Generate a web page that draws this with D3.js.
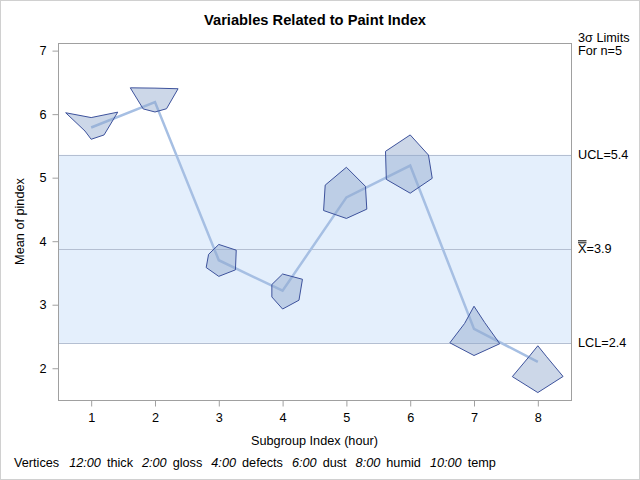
<!DOCTYPE html>
<html>
<head>
<meta charset="utf-8">
<script src="https://cdn.jsdelivr.net/npm/d3@7"></script>
<style>
  body { margin: 0; background: #fff; }
  text { font-family: "Liberation Sans", Arial, sans-serif; }
</style>
</head>
<body>
<div id="chart"></div>
<script>
(function () {

  // subgroup index and subgroup means of pindex
  const hours = [1, 2, 3, 4, 5, 6, 7, 8]
  const means = [5.79, 6.19, 3.70, 3.22, 4.69, 5.19, 2.62, 2.10]

  // standardized star vertex lengths (0..1), one array per variable
  const thick   = [0.32, 0.45, 0.51, 0.54, 0.97, 0.99, 0.73, 0.52]
  const gloss   = [0.99, 0.86, 0.65, 0.74, 0.71, 0.68, 0.40, 0.33]
  const defects = [0.48, 0.43, 0.62, 0.61, 0.76, 0.82, 0.96, 0.94]
  const dust    = [0.38, 0.32, 0.52, 0.59, 0.68, 0.89, 0.86, 0.99]
  const humid   = [0.23, 0.44, 0.47, 0.40, 0.85, 0.89, 0.90, 0.95]
  const temp    = [0.95, 0.92, 0.38, 0.40, 0.79, 0.92, 0.35, 0.33]

  const vertexNames = ['thick', 'gloss', 'defects', 'dust', 'humid', 'temp']
  const vertexClock = ['12:00', '2:00', '4:00', '6:00', '8:00', '10:00']

  // control limits
  const ucl = 5.36
  const center = 3.88
  const lcl = 2.40
  const yTicks = [2, 3, 4, 5, 6, 7]

  const margin = { top: 43, right: 69, bottom: 80, left: 58 }
  const width = 640 - margin.left - margin.right
  const height = 480 - margin.top - margin.bottom
  const fs = "12.7px"

  const root = d3.select("#chart").append("svg")
      .attr("width", 640)
      .attr("height", 480)

  root.append("rect")
    .attr("x", 0.5).attr("y", 0.5)
    .attr("width", 639).attr("height", 479)
    .attr("fill", "#fff")
    .attr("stroke", "#d0d0d0")

  const svg = root.append("g")
      .attr("transform", "translate(" + margin.left + "," + margin.top + ")")

  const xPositionScale = d3.scaleLinear()
    .domain([0.48, 8.52])
    .range([0, width])

  const yPositionScale = d3.scaleLinear()
    .domain([1.5, 7.12])
    .range([height, 0])

  const rScale = d3.scaleLinear()
    .domain([0, 1])
    .range([0, 31])

  // limits band
  svg.append("rect")
    .attr("x", 0)
    .attr("y", yPositionScale(ucl))
    .attr("width", width)
    .attr("height", yPositionScale(lcl) - yPositionScale(ucl))
    .attr("fill", "#e4effc")

  svg.selectAll(".limit")
    .data([ucl, center, lcl])
    .join("line")
    .attr("class", "limit")
    .attr("x1", 0)
    .attr("x2", width)
    .attr("y1", d => Math.round(yPositionScale(d)) + 0.5)
    .attr("y2", d => Math.round(yPositionScale(d)) + 0.5)
    .attr("stroke", "#b4bfd2")
    .attr("stroke-width", 1)

  // mean line
  const line = d3.line()
    .x((d, i) => xPositionScale(hours[i]))
    .y(d => yPositionScale(d))

  svg.append("path")
    .datum(means)
    .attr("d", line)
    .attr("fill", "none")
    .attr("stroke", "#a6bfe3")
    .attr("stroke-width", 2.5)

  // stars
  const vars = [thick, gloss, defects, dust, humid, temp]
  const stars = hours.map((h, i) => {
    const cx = xPositionScale(h)
    const cy = yPositionScale(means[i])
    return vars.map((v, k) => {
      const a = k * Math.PI / 3
      const r = rScale(v[i])
      return [cx + r * Math.sin(a), cy - r * Math.cos(a)]
    })
  })

  svg.selectAll(".star")
    .data(stars)
    .join("polygon")
    .attr("class", "star")
    .attr("points", d => d.map(p => p.join(",")).join(" "))
    .attr("fill", "#8fa6cc")
    .attr("fill-opacity", 0.45)
    .attr("stroke", "#3d529c")
    .attr("stroke-width", 1)

  // frame
  svg.append("rect")
    .attr("x", 0.5).attr("y", 0.5)
    .attr("width", width).attr("height", height)
    .attr("fill", "none")
    .attr("stroke", "#a0a0a0")

  const yAxis = d3.axisLeft(yPositionScale)
    .tickValues(yTicks).tickFormat(d3.format("d"))
    .tickSize(6).tickPadding(6)
  svg.append("g")
    .attr("class", "axis y-axis")
    .attr("transform", "translate(0.5,0)")
    .call(yAxis)

  const xAxis = d3.axisBottom(xPositionScale)
    .tickValues(hours).tickFormat(d3.format("d"))
    .tickSize(6).tickPadding(6)
  svg.append("g")
    .attr("class", "axis x-axis")
    .attr("transform", "translate(0," + (height + 0.5) + ")")
    .call(xAxis)

  root.selectAll(".axis .domain").remove()
  root.selectAll(".axis line").attr("stroke", "#a0a0a0")
  root.selectAll(".axis text")
    .attr("fill", "#000")
    .style("font-size", fs)
    .style("font-family", "'Liberation Sans', Arial, sans-serif")

  // titles
  root.append("text")
    .attr("x", 315).attr("y", 25)
    .attr("text-anchor", "middle")
    .style("font-size", "14.7px")
    .style("font-weight", "bold")
    .text("Variables Related to Paint Index")

  root.append("text")
    .attr("transform", "translate(24," + (margin.top + height / 2) + ") rotate(-90)")
    .attr("text-anchor", "middle")
    .style("font-size", fs)
    .text("Mean of pindex")

  root.append("text")
    .attr("x", margin.left + width / 2).attr("y", 445)
    .attr("text-anchor", "middle")
    .style("font-size", fs)
    .text("Subgroup Index (hour)")

  // right-side labels
  const rx = margin.left + width + 7
  const rlab = root.append("g").style("font-size", fs)
  rlab.append("text").attr("x", rx).attr("y", 42).text("3\u03c3 Limits")
  rlab.append("text").attr("x", rx).attr("y", 55).text("For n=5")
  rlab.append("text").attr("x", rx)
    .attr("y", margin.top + yPositionScale(ucl) + 4)
    .text("UCL=" + ucl.toFixed(1))
  rlab.append("text").attr("x", rx)
    .attr("y", margin.top + yPositionScale(lcl) + 4)
    .text("LCL=" + lcl.toFixed(1))
  const xb = rlab.append("text").attr("x", rx)
    .attr("y", margin.top + yPositionScale(center) + 4)
  xb.append("tspan").attr("class", "xbar").text("X")
  xb.append("tspan").text("=" + center.toFixed(1))
  const xbW = xb.select(".xbar").node().getComputedTextLength()
  const yb = margin.top + yPositionScale(center) + 4 - 9.5
  ;[yb - 0.5, yb - 2.5].forEach(yy => {
    rlab.append("line")
      .attr("x1", rx).attr("x2", rx + xbW)
      .attr("y1", yy).attr("y2", yy)
      .attr("stroke", "#000").attr("stroke-width", 1)
  })

  // vertex legend
  const leg = root.append("text")
    .attr("x", 14).attr("y", 467)
    .style("font-size", fs)
  leg.append("tspan").text("Vertices")
  vertexNames.forEach((n, k) => {
    leg.append("tspan").attr("dx", k === 0 ? 10 : 9)
      .style("font-style", "italic").text(vertexClock[k])
    leg.append("tspan").attr("dx", 6).text(n)
  })

})();
</script>
</body>
</html>
